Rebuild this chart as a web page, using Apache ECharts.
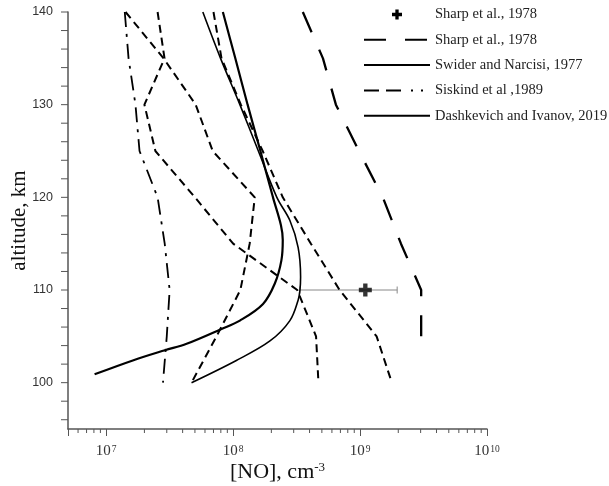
<!DOCTYPE html>
<html>
<head>
<meta charset="utf-8">
<script src="https://cdn.jsdelivr.net/npm/echarts@6/dist/echarts.min.js"></script>
<style>
  html, body { margin: 0; padding: 0; background: #fff; }
  #chart { width: 609px; height: 486px; }
</style>
</head>
<body>
<div id="chart"></div>
<script>
// altitudes (km) for the piecewise profiles, read at 5 km steps
const altSteps = [140, 135, 130, 125, 120, 115, 110, 105, 100];

// short-dashed profiles
const dashA = [1.42e7, 2.83e7, 5.07e7, 6.9e7, 1.48e8, 1.35e8, 1.14e8, 7.4e7, 4.7e7];
const dashB = [2.54e7, 2.88e7, 2.0e7, 2.44e7, 5.0e7, 1.0e8, 3.2e8, 4.5e8, 4.7e8];
const dashC = [7.0e7, 8.1e7, 1.15e8, 1.71e8, 2.46e8, 4.1e8, 6.9e8, 1.35e9, 1.78e9];

// dash-dot profile (Siskind et al)
const siskind = [1.40e7, 1.50e7, 1.70e7, 1.83e7, 2.54e7, 2.89e7, 3.16e7, 3.0e7, 2.8e7];

// Sharp et al. long-dash profile, 140..105 km
const sharpAlt = [140, 135, 130, 125, 120, 115, 110, 105];
const sharpNO = [3.54e8, 5.1e8, 6.45e8, 9.8e8, 1.51e9, 2.1e9, 3.03e9, 3.03e9];

// Swider and Narcisi (thin solid)
const swiderAlt = [140, 135, 130, 125, 120, 117.5, 114.6, 111.4, 110, 108.9, 106.7, 104.5, 102.4, 100];
const swiderNO = [5.77e7, 7.96e7, 1.13e8, 1.58e8, 2.21e8, 2.80e8, 3.25e8, 3.40e8, 3.36e8, 3.25e8, 2.80e8, 1.95e8, 1.06e8, 4.7e7];

// Dashkevich and Ivanov (thick solid)
const dashkAlt = [140, 135, 130, 125, 120, 117, 115.4, 113.2, 110.7, 108.5, 106.7, 105.8, 104.2, 103.5, 102.4, 100.9];
const dashkNO = [8.3e7, 1.04e8, 1.30e8, 1.64e8, 2.06e8, 2.38e8, 2.46e8, 2.40e8, 2.13e8, 1.72e8, 1.13e8, 8.1e7, 4.3e7, 2.9e7, 1.62e7, 8.1e6];

// Sharp et al. point with horizontal error bar
const sharpPoint = [1.1e9, 110];
const sharpErr = [3.36e8, 1.96e9];

// axes
const xMin = 5e6, xMax = 1e10;
const yMin = 95, yMax = 140;
const yTickStep = 2;
const minorMult = [2, 3, 4, 5, 6, 7, 8, 9];
const decades = [6, 7, 8, 9];

const pairs = (xs, ys) => xs.map((v, i) => [v, ys[i]]);

const xMinor = [];
decades.forEach(d => minorMult.forEach(m => {
  const v = m * Math.pow(10, d);
  if (v > xMin && v < xMax) xMinor.push([v, yMin]);
}));

// y ticks every 2 km (axis itself steps from min=95, so ticks are drawn here)
const yTicks = [];
for (let a = 96; a <= yMax; a += yTickStep) yTicks.push([xMin, a]);

const serif = 'Liberation Serif';
const ink = '#000';
const axisGrey = '#555';

const chart = echarts.init(document.getElementById('chart'));

const plusPath = 'path://M4,0h4v4h4v4h-4v4h-4v-4h-4v-4h4z';

const tickSeries = (name, data, dx, dy) => ({
  name: name,
  type: 'custom',
  silent: true,
  clip: false,
  data: data,
  encode: { x: 0, y: 1 },
  renderItem: (params, api) => {
    const p = api.coord([api.value(0), api.value(1)]);
    return {
      type: 'line',
      shape: { x1: p[0], y1: p[1], x2: p[0] + dx, y2: p[1] + dy },
      style: { stroke: axisGrey, lineWidth: 1 }
    };
  },
  z: 1
});

const option = {
  animation: false,
  backgroundColor: '#fff',
  grid: { left: 68, right: 122, top: 12, bottom: 57, outerBoundsMode: 'none' },
  legend: {
    orient: 'vertical',
    left: 363,
    top: 7,
    padding: 0,
    itemWidth: 66,
    itemHeight: 10,
    itemGap: 10.3,
    itemStyle: { opacity: 0 },
    textStyle: { fontFamily: serif, fontSize: 14.5, color: '#222' },
    data: [
      { name: 'Sharp et al., 1978', itemStyle: { opacity: 1 } },
      { name: 'Sharp et al., 1978 ' },
      { name: 'Swider and Narcisi, 1977' },
      { name: 'Siskind et al ,1989', lineStyle: { type: [15, 7, 15, 10, 2, 8, 2, 20] } },
      { name: 'Dashkevich and Ivanov, 2019' }
    ]
  },
  xAxis: {
    type: 'log',
    logBase: 10,
    min: xMin,
    max: xMax,
    splitLine: { show: false },
    axisLine: { lineStyle: { color: axisGrey, width: 1.5 } },
    axisTick: { length: 7, lineStyle: { color: axisGrey, width: 1 } },
    axisLabel: {
      margin: 15,
      formatter: v => {
        const p = Math.log10(v);
        if (Math.abs(p - Math.round(p)) > 1e-6) return '';
        return '{b|10}{s|' + Math.round(p) + '}';
      },
      rich: {
        b: { fontFamily: serif, fontSize: 15, color: '#333' },
        s: { fontFamily: serif, fontSize: 9.5, color: '#333', verticalAlign: 'top', padding: [0, 0, 0, 1] }
      }
    },
    name: '[NO], cm{s|-3}',
    nameLocation: 'middle',
    nameGap: 32,
    nameMoveOverlap: false,
    nameTextStyle: {
      fontFamily: serif, fontSize: 22, color: '#111',
      rich: { s: { fontFamily: serif, fontSize: 13, color: '#111', verticalAlign: 'top' } }
    }
  },
  yAxis: {
    type: 'value',
    min: yMin,
    max: yMax,
    interval: 5,
    splitLine: { show: false },
    axisLine: { show: true, lineStyle: { color: axisGrey, width: 1.5 } },
    axisTick: { show: false },
    axisLabel: {
      margin: 15,
      fontFamily: 'Liberation Sans',
      fontSize: 12.5,
      color: '#333',
      formatter: v => (v % 10 === 0 ? String(v) : '')
    },
    name: 'altitude, km',
    nameLocation: 'middle',
    nameGap: 38,
    nameMoveOverlap: false,
    nameTextStyle: { fontFamily: serif, fontSize: 21, color: '#111' }
  },
  series: [
    tickSeries('xminor', xMinor, 0, 4),
    tickSeries('yticks', yTicks, -7, 0),
    {
      name: 'errbar',
      type: 'custom',
      silent: true,
      data: [[sharpErr[0], sharpErr[1], sharpPoint[1]]],
      encode: { x: [0, 1], y: 2 },
      renderItem: (params, api) => {
        const a = api.coord([api.value(0), api.value(2)]);
        const b = api.coord([api.value(1), api.value(2)]);
        const st = { stroke: '#888', lineWidth: 1 };
        return {
          type: 'group',
          children: [
            { type: 'line', shape: { x1: a[0], y1: a[1], x2: b[0], y2: b[1] }, style: st },
            { type: 'line', shape: { x1: a[0], y1: a[1] - 3.5, x2: a[0], y2: a[1] + 3.5 }, style: st },
            { type: 'line', shape: { x1: b[0], y1: b[1] - 3.5, x2: b[0], y2: b[1] + 3.5 }, style: st }
          ]
        };
      },
      z: 1
    },
    {
      name: 'Sharp et al., 1978',
      type: 'scatter',
      symbol: plusPath,
      symbolSize: 13,
      symbolKeepAspect: true,
      itemStyle: { color: ink },
      data: [sharpPoint],
      z: 5
    },
    {
      name: 'Sharp et al., 1978 ',
      type: 'line',
      symbol: 'none',
      data: pairs(sharpNO, sharpAlt),
      lineStyle: { color: ink, width: 2.3, type: [22, 19] },
      itemStyle: { color: ink }
    },
    {
      name: 'Swider and Narcisi, 1977',
      type: 'line',
      symbol: 'none',
      smooth: 0.35,
      data: pairs(swiderNO, swiderAlt),
      lineStyle: { color: ink, width: 1.6 },
      itemStyle: { color: ink }
    },
    {
      name: 'Siskind et al ,1989',
      type: 'line',
      symbol: 'none',
      data: pairs(siskind, altSteps),
      lineStyle: { color: ink, width: 1.8, type: [15, 7, 3, 7] },
      itemStyle: { color: ink }
    },
    {
      name: 'Dashkevich and Ivanov, 2019',
      type: 'line',
      symbol: 'none',
      smooth: 0.35,
      data: pairs(dashkNO, dashkAlt),
      lineStyle: { color: ink, width: 2.2 },
      itemStyle: { color: ink }
    },
    {
      name: 'dashA',
      type: 'line',
      symbol: 'none',
      data: pairs(dashA, altSteps),
      lineStyle: { color: ink, width: 2, type: [8, 5] }
    },
    {
      name: 'dashB',
      type: 'line',
      symbol: 'none',
      data: pairs(dashB, altSteps),
      lineStyle: { color: ink, width: 2, type: [8, 5] }
    },
    {
      name: 'dashC',
      type: 'line',
      symbol: 'none',
      data: pairs(dashC, altSteps),
      lineStyle: { color: ink, width: 2, type: [8, 5] }
    }
  ]
};

chart.setOption(option);
</script>
</body>
</html>
